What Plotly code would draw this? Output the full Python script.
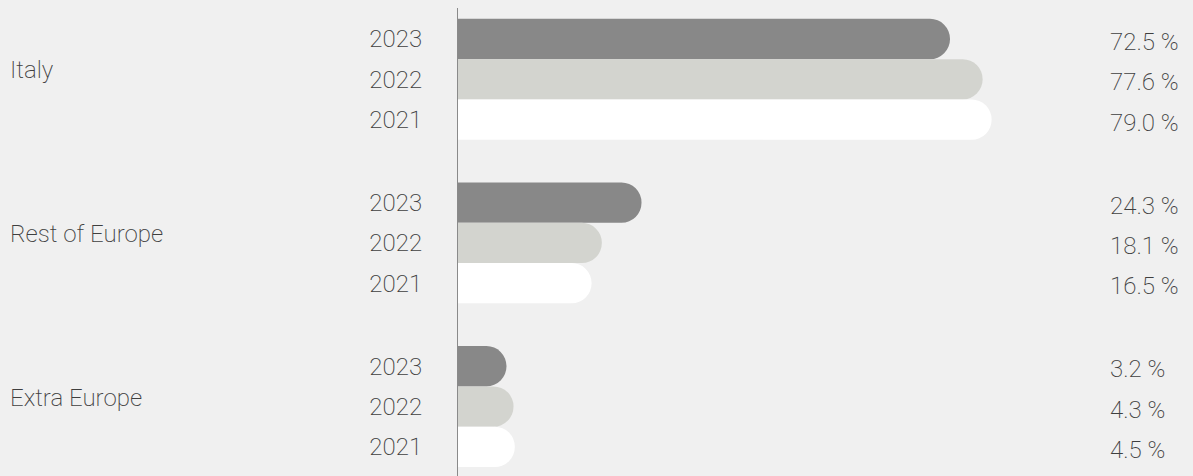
import plotly.graph_objects as go

regions = ["Italy", "Rest of Europe", "Extra Europe"]
years = ["2023", "2022", "2021"]
share_2023 = [72.5, 24.3, 3.2]
share_2022 = [77.6, 18.1, 4.3]
share_2021 = [79.0, 16.5, 4.5]

series = {"2023": share_2023, "2022": share_2022, "2021": share_2021}
colors = {"2023": "#888888", "2022": "#d3d4cf", "2021": "#ffffff"}

W, H = 1193, 476
ML, MT = 458, 8
PX_PER_UNIT = 6.4      # horizontal pixels per percentage point
CAP = 4.375            # extra length taken by the rounded cap
GROUP_PITCH = 4.06     # vertical distance between region groups (in bar heights)
TEXT = "#3f3f3f"
FONT = "Roboto"
FSIZE = 24
WEIGHT = 200

fig = go.Figure()

tickvals, ticktext = [], []
for j, yr in enumerate(years):
    pos = [g * GROUP_PITCH + j for g in range(len(regions))]
    vals = series[yr]
    tickvals += pos
    ticktext += [yr] * len(pos)
    fig.add_trace(
        go.Bar(
            x=[v + CAP for v in vals],
            y=pos,
            orientation="h",
            width=1,
            name=yr,
            marker=dict(color=colors[yr], line=dict(width=0), cornerradius="50%"),
            customdata=vals,
            hovertemplate="%{customdata:.1f} %<extra>" + yr + "</extra>",
        )
    )
    for p, v in zip(pos, vals):
        fig.add_annotation(
            x=(1108 - ML) / (W - ML), xref="paper", xanchor="left",
            y=p, yref="y", yshift=-3,
            text=f"{v:.1f} %", showarrow=False,
            font=dict(size=FSIZE, color=TEXT, family=FONT, weight=WEIGHT),
        )

for g, name in enumerate(regions):
    fig.add_annotation(
        x=(8 - ML) / (W - ML), xref="paper", xanchor="left",
        y=g * GROUP_PITCH + 1, yref="y", yshift=9,
        text=name, showarrow=False,
        font=dict(size=FSIZE, color=TEXT, family=FONT, weight=WEIGHT),
    )

fig.update_layout(
    width=W,
    height=H,
    margin=dict(l=ML, r=0, t=MT, b=0, pad=0),
    paper_bgcolor="#f0f0f0",
    plot_bgcolor="#f0f0f0",
    barmode="overlay",
    showlegend=False,
    font=dict(family=FONT, color=TEXT, size=FSIZE, weight=WEIGHT),
    xaxis=dict(
        range=[0, (W - ML) / PX_PER_UNIT],
        showgrid=False, zeroline=False, showticklabels=False, showline=False,
    ),
    yaxis=dict(
        range=[(H - 39) / 40.3, -31 / 40.3],
        tickvals=tickvals,
        ticktext=ticktext,
        ticks="",
        ticklabelstandoff=30,
        showgrid=False, zeroline=False,
        showline=True, linecolor="#8a8a8a", linewidth=1,
        tickfont=dict(size=FSIZE, color=TEXT, family=FONT, weight=WEIGHT),
    ),
)

fig.write_html(
    "out.html",
    config={"displayModeBar": False},
    post_script="document.body.style.margin='0';document.body.style.overflow='hidden';",
)
